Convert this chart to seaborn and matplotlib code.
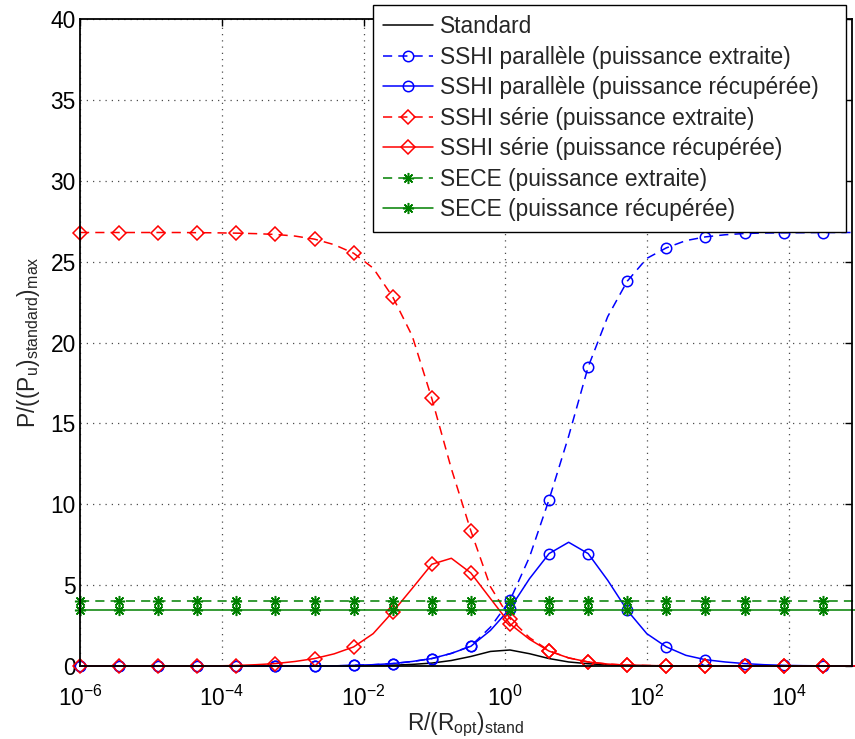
import numpy as np
import pandas as pd
import matplotlib
matplotlib.use("Agg")
import matplotlib.pyplot as plt
import matplotlib.ticker as mticker
import seaborn as sns

# ----------------------------------------
# Grille R/(Ropt)_stand : 41 points en log, un marqueur tous les 2 points
r_exposants = np.linspace(-6.0, 5.028, 41)
r_norm = 10.0 ** r_exposants

# Valeurs, P/((Pu)standard)max
standard = [0.00, 0.00, 0.00, 0.00, 0.00, 0.00, 0.00, 0.00, 0.00, 0.00,
            0.00, 0.00, 0.00, 0.01, 0.01, 0.03, 0.05, 0.10, 0.18, 0.34,
            0.59, 0.90, 0.99, 0.76, 0.46, 0.25, 0.14, 0.07, 0.04, 0.02,
            0.01, 0.00, 0.00, 0.00, 0.00, 0.00, 0.00, 0.00, 0.00, 0.00,
            0.00]

parallele_extraite = [0.00, 0.00, 0.00, 0.00, 0.00, 0.00, 0.00, 0.00, 0.00, 0.00,
                      0.00, 0.00, 0.00, 0.01, 0.04, 0.08, 0.15, 0.28, 0.46, 0.78,
                      1.24, 2.40, 4.06, 6.74, 10.29, 14.20, 18.49, 21.60, 23.79, 25.20,
                      25.85, 26.30, 26.53, 26.66, 26.74, 26.77, 26.78, 26.79, 26.80, 26.80,
                      26.80]

parallele_recuperee = [0.00, 0.00, 0.00, 0.00, 0.00, 0.00, 0.00, 0.00, 0.00, 0.00,
                       0.00, 0.00, 0.00, 0.01, 0.04, 0.08, 0.15, 0.28, 0.46, 0.78,
                       1.22, 2.20, 3.55, 5.40, 6.95, 7.65, 6.95, 5.30, 3.44, 2.00,
                       1.18, 0.66, 0.39, 0.25, 0.15, 0.08, 0.04, 0.02, 0.01, 0.00,
                       0.00]

serie_extraite = [26.80, 26.80, 26.80, 26.80, 26.80, 26.80, 26.79, 26.78, 26.76, 26.73,
                  26.68, 26.58, 26.39, 26.05, 25.52, 24.60, 22.82, 20.40, 16.54, 12.20,
                  8.35, 4.90, 2.93, 1.75, 0.95, 0.50, 0.25, 0.12, 0.05, 0.03,
                  0.01, 0.00, 0.00, 0.00, 0.00, 0.00, 0.00, 0.00, 0.00, 0.00,
                  0.00]

serie_recuperee = [0.00, 0.00, 0.00, 0.00, 0.00, 0.00, 0.00, 0.01, 0.03, 0.08,
                   0.15, 0.28, 0.46, 0.75, 1.18, 2.00, 3.34, 4.80, 6.29, 6.66,
                   5.75, 4.17, 2.60, 1.65, 0.92, 0.50, 0.25, 0.12, 0.05, 0.03,
                   0.01, 0.00, 0.00, 0.00, 0.00, 0.00, 0.00, 0.00, 0.00, 0.00,
                   0.00]

sece_extraite = [4.00] * 41
sece_recuperee = [3.44] * 41

series = [
    ("Standard", standard, "k", "-", None),
    ("SSHI parallèle (puissance extraite)", parallele_extraite, "b", "--", "o"),
    ("SSHI parallèle (puissance récupérée)", parallele_recuperee, "b", "-", "o"),
    ("SSHI série (puissance extraite)", serie_extraite, "r", "--", "D"),
    ("SSHI série (puissance récupérée)", serie_recuperee, "r", "-", "D"),
    ("SECE (puissance extraite)", sece_extraite, "#008000", "--", (8, 2, 0)),
    ("SECE (puissance récupérée)", sece_recuperee, "#008000", "-", (8, 2, 0)),
]

# ----------------------------------------
sns.set_style("white")
plt.rcParams["font.family"] = ["Liberation Sans", "DejaVu Sans"]
plt.rcParams["mathtext.fontset"] = "custom"
plt.rcParams["mathtext.rm"] = "Liberation Sans"
plt.rcParams["mathtext.it"] = "Liberation Sans:italic"
plt.rcParams["mathtext.default"] = "regular"

fs = 16.4
fig = plt.figure(figsize=(8.55, 7.39), dpi=100)
ax = fig.add_axes([80 / 855, 1 - 666 / 739, 772 / 855, 647 / 739])
ax.set_xscale("log")

tailles = {"o": 7.5, "D": 7.5}
for label, valeurs, couleur, style, marqueur in series:
    df = pd.DataFrame({"r": r_norm, "p": valeurs})
    kws = dict(color=couleur, linewidth=1.1, clip_on=False, label=label)
    if style == "--":
        kws["dashes"] = (6, 4)
    if marqueur is not None:
        kws.update(marker=marqueur, markevery=2,
                   markersize=tailles.get(marqueur, 8),
                   markerfacecolor="none", markeredgecolor=couleur,
                   markeredgewidth=1.1)
    sns.lineplot(data=df, x="r", y="p", ax=ax, sort=False, **kws)

ax.set_xlim(1e-6, 10 ** 4.89)
ax.set_ylim(0, 40)
ax.set_xticks([1e-6, 1e-4, 1e-2, 1e0, 1e2, 1e4])
ax.xaxis.set_major_formatter(mticker.LogFormatterMathtext())
ax.xaxis.set_minor_locator(mticker.NullLocator())
ax.set_yticks(np.arange(0, 41, 5))

ax.grid(True, which="major", color="0.3", linestyle=(0, (1, 4)), linewidth=0.9)
ax.tick_params(direction="in", top=True, right=True, length=5, width=1.0,
               labelsize=fs, pad=3, colors="k")
ax.tick_params(axis="x", pad=14)
for sp in ax.spines.values():
    sp.set_linewidth(1.3)
    sp.set_color("k")

ax.set_xlabel(r"R/(R$_{opt}$)$_{stand}$", fontsize=fs, labelpad=0)
ax.set_ylabel(r"P/((P$_u$)$_{standard}$)$_{max}$", fontsize=fs, labelpad=6)

# légende en haut à droite, plus large que son contenu comme dans l'original
leg = ax.legend(loc="upper left",
                bbox_to_anchor=(373 / 855, 1 - 224 / 739, 473 / 855, 219 / 739),
                bbox_transform=fig.transFigure, mode="expand", borderaxespad=0,
                fontsize=fs, frameon=True, fancybox=False, framealpha=1,
                edgecolor="k", handlelength=2.2, handletextpad=0.3,
                labelspacing=0.33, borderpad=0.45, numpoints=1)
leg.get_frame().set_linewidth(1.0)

fig.savefig("out.png", dpi=100)
